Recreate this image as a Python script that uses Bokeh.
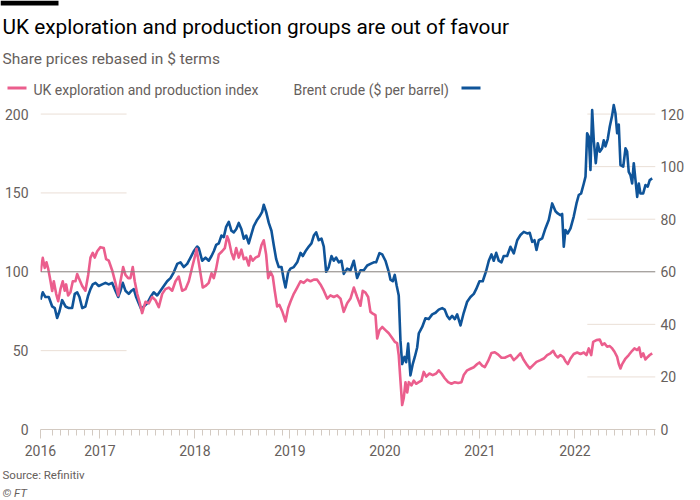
from bokeh.plotting import figure
from bokeh.layouts import column
from bokeh.models import (Range1d, LinearAxis, FixedTicker, CustomJSTickFormatter,
                          Span, Label)
from bokeh.embed import file_html
from bokeh.resources import INLINE

# ---------------- data ----------------
TITLE = "UK exploration and production groups are out of favour"
SUBTITLE = "Share prices rebased in $ terms"
SERIES_UK = "UK exploration and production index"
SERIES_BRENT = "Brent crude ($ per barrel)"
SOURCE = "Source: Refinitiv"
COPYRIGHT = "\u00a9 FT"

YEAR_TICKS = [2017, 2018, 2019, 2020, 2021, 2022]
FIRST_YEAR_LABEL = "2016"
LEFT_TICKS = [0, 50, 100, 150, 200]
RIGHT_TICKS = [0, 20, 40, 60, 80, 100, 120]
LEFT_GRID = [50, 150, 200]
RIGHT_GRID = [20, 40, 80, 100, 120]
BASELINE = 100

uk_years = [2016.374, 2016.398, 2016.419, 2016.437, 2016.455, 2016.479, 2016.497, 2016.514,
            2016.539, 2016.560, 2016.584, 2016.608, 2016.629, 2016.644, 2016.665, 2016.689,
            2016.714, 2016.742, 2016.760, 2016.777, 2016.813, 2016.847, 2016.876, 2016.900,
            2016.924, 2016.945, 2016.971, 2017.005, 2017.040, 2017.065, 2017.093, 2017.128,
            2017.163, 2017.192, 2017.216, 2017.244, 2017.268, 2017.297, 2017.321, 2017.345,
            2017.366, 2017.392, 2017.416, 2017.444, 2017.479, 2017.514, 2017.549, 2017.584,
            2017.619, 2017.655, 2017.689, 2017.724, 2017.760, 2017.795, 2017.829, 2017.865,
            2017.900, 2017.935, 2017.971, 2018.005, 2018.016, 2018.042, 2018.082, 2018.111,
            2018.145, 2018.174, 2018.198, 2018.223, 2018.251, 2018.286, 2018.314, 2018.339,
            2018.356, 2018.384, 2018.408, 2018.434, 2018.461, 2018.489, 2018.514, 2018.539,
            2018.566, 2018.584, 2018.608, 2018.637, 2018.672, 2018.700, 2018.724, 2018.749,
            2018.771, 2018.795, 2018.819, 2018.840, 2018.865, 2018.889, 2018.918, 2018.953,
            2018.981, 2019.005, 2019.040, 2019.076, 2019.111, 2019.145, 2019.181, 2019.216,
            2019.251, 2019.286, 2019.321, 2019.356, 2019.392, 2019.426, 2019.461, 2019.497,
            2019.532, 2019.566, 2019.602, 2019.637, 2019.672, 2019.707, 2019.742, 2019.766,
            2019.795, 2019.823, 2019.847, 2019.872, 2019.900, 2019.918, 2019.942, 2019.971,
            2020.005, 2020.040, 2020.076, 2020.103, 2020.128, 2020.145, 2020.163, 2020.181,
            2020.198, 2020.216, 2020.234, 2020.251, 2020.279, 2020.303, 2020.328, 2020.356,
            2020.384, 2020.408, 2020.434, 2020.468, 2020.503, 2020.539, 2020.566, 2020.595,
            2020.629, 2020.665, 2020.700, 2020.735, 2020.771, 2020.805, 2020.829, 2020.865,
            2020.900, 2020.935, 2020.971, 2020.995, 2021.023, 2021.051, 2021.086, 2021.121,
            2021.156, 2021.192, 2021.226, 2021.261, 2021.297, 2021.321, 2021.356, 2021.392,
            2021.426, 2021.461, 2021.497, 2021.524, 2021.560, 2021.595, 2021.637, 2021.672,
            2021.707, 2021.742, 2021.771, 2021.795, 2021.819, 2021.847, 2021.876, 2021.900,
            2021.924, 2021.953, 2021.987, 2022.023, 2022.058, 2022.093, 2022.121, 2022.145,
            2022.171, 2022.192, 2022.226, 2022.261, 2022.286, 2022.311, 2022.339, 2022.366,
            2022.392, 2022.416, 2022.444, 2022.461, 2022.479, 2022.497, 2022.532, 2022.566,
            2022.602, 2022.626, 2022.655, 2022.676, 2022.697, 2022.718, 2022.742, 2022.766,
            2022.787, 2022.813]
uk_index = [100, 108.8, 102.4, 106, 102, 94.2, 87.8, 94,
            86, 81.3, 89, 94, 88, 92, 85, 87,
            94, 94, 98.6, 96, 91, 88, 98, 109,
            112, 109, 113, 115.6, 115, 108, 107, 101,
            93, 85, 94, 103, 98, 96, 96, 103,
            94, 86, 81, 73.8, 81, 80, 84, 82,
            77.5, 86, 89, 90, 88, 94, 97, 88,
            89, 94, 103, 111, 114.6, 105, 90, 91,
            93, 99, 96, 102, 111, 113, 115, 122.5,
            120, 112, 108, 115, 109, 114, 108, 109,
            104, 110, 107, 109, 110, 117, 120, 111,
            96, 100, 97, 87.8, 78, 79, 75, 68.5,
            77, 81, 86, 90, 94, 93, 95, 94,
            95, 95, 92, 88, 83, 85, 84, 85,
            83, 74.6, 80, 83, 90, 84, 78.5, 88,
            86.8, 84, 74.6, 73.5, 72.5, 57.7, 63, 65,
            63, 61, 58, 55.6, 54.7, 47, 31, 15.5,
            20, 30, 23.5, 30, 28, 31, 29, 30,
            31, 36.5, 33.5, 35.5, 34.5, 35.5, 37.5, 35.5,
            32.5, 30, 29, 30, 29.5, 30, 34.5, 37.5,
            38.5, 39.5, 41.5, 42.5, 40.5, 39.5, 43.5, 48.5,
            49, 47.5, 45.5, 45.5, 46.5, 47.2, 44, 46,
            48.3, 44, 40.8, 38.7, 40.8, 42.9, 44, 45,
            47.2, 48.3, 49.9, 47.2, 45.7, 47.2, 46, 43.3,
            41.5, 45, 47.9, 48.8, 47.9, 48.8, 47.2, 51.4,
            47.2, 55.6, 56.7, 57, 53.6, 54.6, 52.5, 52.9,
            51.4, 49.3, 46, 41.5, 38.7, 41.5, 45, 47.2,
            49.9, 51.4, 50.4, 52, 46, 48.3, 44.4, 46,
            47.2, 48.3]

brent_years = [2016.374, 2016.398, 2016.426, 2016.461, 2016.497, 2016.524, 2016.549, 2016.574,
               2016.602, 2016.637, 2016.672, 2016.707, 2016.735, 2016.760, 2016.784, 2016.813,
               2016.847, 2016.876, 2016.900, 2016.924, 2016.953, 2016.987, 2017.023, 2017.058,
               2017.093, 2017.128, 2017.163, 2017.192, 2017.216, 2017.240, 2017.268, 2017.303,
               2017.332, 2017.356, 2017.381, 2017.408, 2017.437, 2017.461, 2017.497, 2017.532,
               2017.566, 2017.602, 2017.637, 2017.672, 2017.707, 2017.742, 2017.777, 2017.813,
               2017.847, 2017.882, 2017.918, 2017.953, 2017.987, 2018.023, 2018.040, 2018.076,
               2018.111, 2018.145, 2018.174, 2018.198, 2018.223, 2018.251, 2018.279, 2018.303,
               2018.328, 2018.356, 2018.384, 2018.408, 2018.434, 2018.461, 2018.489, 2018.514,
               2018.539, 2018.566, 2018.595, 2018.619, 2018.655, 2018.679, 2018.707, 2018.724,
               2018.749, 2018.777, 2018.805, 2018.829, 2018.855, 2018.882, 2018.911, 2018.935,
               2018.953, 2018.981, 2019.005, 2019.040, 2019.076, 2019.111, 2019.135, 2019.163,
               2019.198, 2019.226, 2019.251, 2019.276, 2019.303, 2019.332, 2019.356, 2019.381,
               2019.408, 2019.437, 2019.461, 2019.486, 2019.514, 2019.542, 2019.566, 2019.602,
               2019.637, 2019.672, 2019.707, 2019.742, 2019.777, 2019.813, 2019.847, 2019.882,
               2019.907, 2019.942, 2019.971, 2020.005, 2020.040, 2020.058, 2020.082, 2020.103,
               2020.124, 2020.145, 2020.163, 2020.181, 2020.205, 2020.223, 2020.244, 2020.268,
               2020.293, 2020.314, 2020.339, 2020.356, 2020.392, 2020.426, 2020.461, 2020.497,
               2020.532, 2020.566, 2020.602, 2020.629, 2020.655, 2020.679, 2020.707, 2020.735,
               2020.760, 2020.795, 2020.829, 2020.865, 2020.900, 2020.935, 2020.960, 2020.995,
               2021.029, 2021.065, 2021.093, 2021.121, 2021.145, 2021.171, 2021.198, 2021.226,
               2021.250, 2021.286, 2021.321, 2021.356, 2021.392, 2021.426, 2021.461, 2021.497,
               2021.524, 2021.550, 2021.574, 2021.595, 2021.619, 2021.655, 2021.689, 2021.724,
               2021.760, 2021.795, 2021.819, 2021.847, 2021.865, 2021.882, 2021.900, 2021.924,
               2021.953, 2021.987, 2022.016, 2022.040, 2022.065, 2022.093, 2022.111, 2022.128,
               2022.145, 2022.163, 2022.181, 2022.198, 2022.219, 2022.240, 2022.261, 2022.286,
               2022.303, 2022.321, 2022.345, 2022.366, 2022.392, 2022.408, 2022.426, 2022.444,
               2022.461, 2022.479, 2022.508, 2022.532, 2022.549, 2022.566, 2022.584, 2022.602,
               2022.619, 2022.637, 2022.655, 2022.672, 2022.689, 2022.718, 2022.742, 2022.766,
               2022.787, 2022.813]
brent_usd = [49.4, 52.2, 50.4, 50.4, 46.8, 46.2, 42.4, 45,
             49.2, 46.8, 46.2, 46.2, 51.6, 52.2, 50.4, 46.2,
             46.8, 51, 53.4, 55.2, 55.8, 54.6, 55.2, 55.8,
             55.2, 55.8, 52.8, 50.4, 52.8, 55.8, 52.8, 51.6,
             52.8, 53.4, 50.4, 48, 45.6, 46.8, 48, 50.4,
             52.2, 51, 52.8, 54.6, 56.4, 57.6, 59.8, 63,
             63.6, 61.8, 63, 65.4, 67.8, 69.6, 69, 64.2,
             65.4, 64.2, 66, 67.8, 70.2, 70.8, 73.8, 73.2,
             77.1, 79, 75.6, 75, 76.2, 78.6, 76.2, 72.6,
             73.8, 70.8, 74.4, 77.4, 79.8, 81, 82.8, 85.5,
             82.8, 78.6, 75.6, 70.2, 64.8, 61.8, 61.8, 57,
             54, 59.8, 61.2, 61.8, 63.6, 67.2, 66, 67.8,
             69.6, 70.8, 73.8, 75, 72, 72.6, 69.6, 60,
             61.8, 66, 64.2, 65.4, 63.6, 64.2, 59.2, 61.2,
             60.6, 64.2, 57.6, 60.6, 60.6, 62.4, 63, 63.6,
             63.6, 67.1, 66.6, 64.2, 60, 57, 56.4, 58.8,
             54.6, 51, 33.9, 24.9, 27.6, 25.6, 32.7, 20.6,
             25, 27.6, 31.2, 36.6, 39, 42.3, 42, 43.8,
             44.4, 45.6, 46.2, 45.6, 43.2, 42, 43.2, 42,
             43.8, 39.6, 44.4, 48.6, 50.4, 51.6, 53.4, 56.4,
             56.4, 60.3, 64.2, 66.6, 64.2, 67.2, 64.2, 63.6,
             66, 66, 69.5, 67, 72, 74, 75.2, 74.6,
             74.8, 71.4, 72, 68.3, 72, 72.7, 76.5, 79.7,
             86, 83, 82.2, 81.5, 82, 69.5, 75.9, 74.6,
             76.5, 81, 86, 89.2, 89.8, 93.6, 96.2, 112.7,
             111.4, 98.7, 121.5, 110, 101.3, 108.9, 105.7, 107,
             110, 107.7, 110.5, 115.2, 119.6, 123.4, 120.3, 112.7,
             116, 100.6, 100, 107, 105.7, 98, 96.8, 93.6,
             101.3, 94.9, 88.5, 93.6, 89.8, 89.8, 93, 92.4,
             94.9, 95.5]

# ---------------- layout / style ----------------
W = 700
HEAD_H, MAIN_H, FOOT_H = 100, 362, 38
FRAME_L, FRAME_R, FRAME_B = 40, 655, 329      # frame inside the main figure
X0 = 2016.374
X1 = X0 + (FRAME_R - FRAME_L) / 95.0
Y_MAX = 208.6
RIGHT_FACTOR = 0.6           # 100 on the left axis == $60 on the right axis
GRID_LEFT_END = 2017.28
GRID_RIGHT_START = 2022.13

PINK = "#eb5e8d"
BLUE = "#0f5499"
GREY_TEXT = "#66605c"
GRID = "#eadfd6"
TICK = "#d3cac2"
FONT = "Roboto"


def no_frame_align(f):
    try:
        f.frame_align = False
    except Exception:
        pass


def text_panel(height):
    """A figure whose frame is the whole panel, in pixel units (y downwards)."""
    f = figure(width=W, height=height, output_backend="svg", toolbar_location=None,
               x_range=Range1d(0, W), y_range=Range1d(height, 0),
               x_axis_type=None, y_axis_type=None, title=None, min_border=0)
    f.outline_line_color = None
    f.xgrid.visible = False
    f.ygrid.visible = False
    f.background_fill_color = "white"
    f.border_fill_color = "white"
    no_frame_align(f)
    return f


def put(f, text, x, y_mid, size, color=GREY_TEXT, style="normal"):
    f.add_layout(Label(x=x, y=y_mid, text=text, text_font=FONT, text_font_size=size,
                       text_color=color, text_font_style=style,
                       text_baseline="middle", text_align="left"))


# ---------- header ----------
head = text_panel(HEAD_H)
head.quad(left=[0], right=[58], top=[0], bottom=[5], fill_color="#000000", line_color=None)
put(head, TITLE, 2, 26, "20.8px", color="#000000")
put(head, SUBTITLE, 2, 58, "15.5px")
head.segment(x0=[7], x1=[26], y0=[87.5], y1=[87.5], line_color=PINK, line_width=3)
put(head, SERIES_UK, 33, 89, "14px")
put(head, SERIES_BRENT, 293, 89, "14px")
head.segment(x0=[461], x1=[480], y0=[87.5], y1=[87.5], line_color=BLUE, line_width=3)

# ---------- main chart ----------
p = figure(width=W, height=MAIN_H, output_backend="svg", toolbar_location=None,
           x_range=Range1d(X0, X1), y_range=Range1d(0, Y_MAX), title=None,
           min_border_left=FRAME_L, min_border_right=W - FRAME_R,
           min_border_top=0, min_border_bottom=MAIN_H - FRAME_B)
no_frame_align(p)
p.extra_y_ranges = {"brent": Range1d(0, Y_MAX * RIGHT_FACTOR)}
p.outline_line_color = None
p.background_fill_color = "white"
p.border_fill_color = "white"
p.xgrid.visible = False
p.ygrid.visible = False

ya = p.yaxis[0]
ya.ticker = FixedTicker(ticks=LEFT_TICKS)
ya.axis_line_color = None
ya.major_tick_line_color = None
ya.minor_tick_line_color = None
ya.major_tick_out = 0
ya.minor_tick_out = 0
ya.major_label_standoff = 12
ya.major_label_text_font = FONT
ya.major_label_text_font_size = "14px"
ya.major_label_text_color = GREY_TEXT

ra = LinearAxis(y_range_name="brent", ticker=FixedTicker(ticks=RIGHT_TICKS))
ra.axis_line_color = None
ra.major_tick_line_color = None
ra.minor_tick_line_color = None
ra.major_tick_out = 0
ra.minor_tick_out = 0
ra.major_label_standoff = 5
ra.major_label_text_font = FONT
ra.major_label_text_font_size = "14px"
ra.major_label_text_color = GREY_TEXT
p.add_layout(ra, "right")

months = [y + m / 12 for y in range(2016, 2023) for m in range(12)]
months = [m for m in months if X0 + 0.05 < m < X1 + 0.01 and abs(m - round(m)) > 1e-6]
xa = p.xaxis[0]
xa.ticker = FixedTicker(ticks=[X0] + YEAR_TICKS, minor_ticks=months)
xa.formatter = CustomJSTickFormatter(
    args=dict(first=FIRST_YEAR_LABEL, x0=X0),
    code="return Math.abs(tick - x0) < 1e-6 ? first : Math.round(tick).toString();")
xa.axis_line_color = TICK
xa.major_tick_line_color = TICK
xa.minor_tick_line_color = TICK
xa.major_tick_in = 0
xa.major_tick_out = 9
xa.minor_tick_in = 0
xa.minor_tick_out = 6
xa.major_label_standoff = 6
xa.major_label_text_font = FONT
xa.major_label_text_font_size = "14px"
xa.major_label_text_color = GREY_TEXT

p.segment(x0=[X0] * len(LEFT_GRID), x1=[GRID_LEFT_END] * len(LEFT_GRID),
          y0=LEFT_GRID, y1=LEFT_GRID, line_color=GRID, line_width=1)
p.segment(x0=[GRID_RIGHT_START] * len(RIGHT_GRID), x1=[X1] * len(RIGHT_GRID),
          y0=RIGHT_GRID, y1=RIGHT_GRID, line_color=GRID, line_width=1,
          y_range_name="brent")
p.add_layout(Span(location=BASELINE, dimension="width", line_color="#86807c", line_width=1))

p.line(x=brent_years, y=brent_usd, line_color=BLUE, line_width=2.6,
       line_join="round", y_range_name="brent")
p.line(x=uk_years, y=uk_index, line_color=PINK, line_width=2.6, line_join="round")

# ---------- footer ----------
foot = text_panel(FOOT_H)
put(foot, SOURCE, 2, 12, "11.5px")
put(foot, COPYRIGHT, 2, 30, "11.5px", style="italic")

layout = column(head, p, foot, spacing=0)
open("out.html", "w").write(file_html(layout, INLINE))
